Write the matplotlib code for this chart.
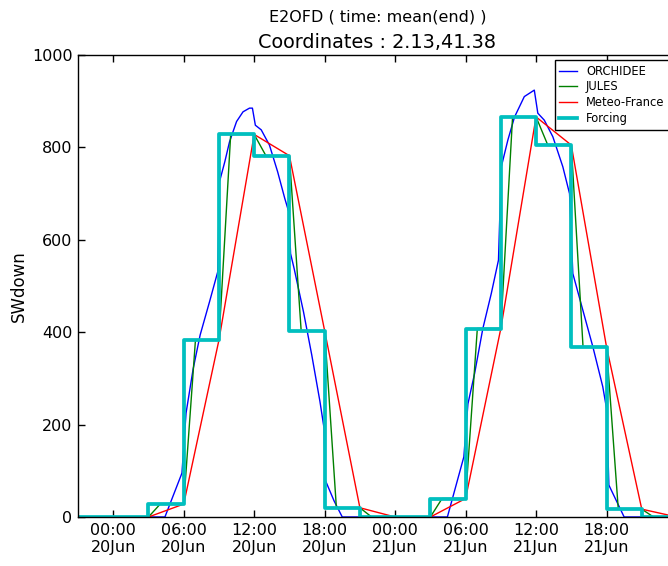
import matplotlib
matplotlib.use('Agg')
import matplotlib.pyplot as plt
import matplotlib.dates as mdates
import numpy as np
import pandas as pd

# 3-hourly forcing and Meteo-France (value valid over the 3h ending at the stamp)
forcing_times = pd.date_range('2013-06-19 21:00', '2013-06-22 00:00', freq='3h')
forcing = [0, 0, 0, 28, 383, 828, 782, 403, 20,
           0, 0, 40, 408, 866, 805, 368, 17, 0]
meteo_france = [0, 0, 0, 28, 383, 828, 782, 403, 20,
                0, 0, 40, 408, 866, 805, 368, 17, 0]

# hourly JULES
jules_times = pd.date_range('2013-06-19 21:00', '2013-06-22 00:00', freq='h')
jules = [0, 0, 0,
         0, 0, 0, 0, 28, 28, 28, 383, 383, 383, 828, 828,
         828, 782, 782, 782, 403, 403, 403, 20, 20, 20, 0, 0,
         0, 0, 0, 0, 40, 40, 40, 408, 408, 408, 866, 866,
         866, 805, 805, 805, 368, 368, 368, 17, 17, 17, 0, 0,
         0]

# ORCHIDEE, hours after 20Jun 00:00
orchidee_hours = [-3, 4.4, 5.85, 6.2, 6.8, 7.4, 8.2, 8.9, 9.05, 9.5, 9.9, 10.5,
                  11.05, 11.6, 11.85, 12.1, 12.6, 13.3, 14.0, 14.6, 14.95, 15.1,
                  15.4, 16.2, 16.9, 17.6, 17.95, 18.05, 18.8, 19.5,
                  28.45, 29.85, 30.2, 30.77, 31.47, 32.19, 32.8, 33.04, 33.6,
                  34.17, 35.0, 35.85, 36.15, 36.7, 37.43, 38.28, 38.85, 39.13,
                  39.98, 40.83, 41.68, 42.0, 42.2, 43.5, 48]
orchidee = [0, 0, 95, 225, 320, 394, 466, 531, 726, 769, 812, 856,
            877, 885, 885, 848, 838, 805, 747, 690, 660, 570,
            538, 444, 351, 250, 192, 80, 35, 0,
            0, 130, 245, 311, 408, 484, 556, 758, 816,
            866, 910, 924, 874, 859, 823, 758, 700, 527,
            448, 369, 282, 235, 69, 0, 0]

t0 = pd.Timestamp('2013-06-20 00:00')
orchidee_times = [t0 + pd.Timedelta(hours=h) for h in orchidee_hours]
tick_times = pd.date_range('2013-06-20 00:00', '2013-06-21 18:00', freq='6h')

fig = plt.figure(figsize=(6.68, 5.66), dpi=100)
ax = fig.add_axes([78 / 668, 49 / 566, 599 / 668, 462 / 566])

ax.plot(orchidee_times, orchidee, color='b', lw=1.0, label='ORCHIDEE')
ax.plot(jules_times, jules, color='g', lw=1.0, label='JULES')
ax.plot(forcing_times, meteo_france, color='r', lw=1.0, label='Meteo-France')
ax.plot(forcing_times, forcing, color='c', lw=2.7, drawstyle='steps-pre', label='Forcing')

ax.set_xlim(forcing_times[0], forcing_times[-1])
ax.set_ylim(0, 1000)
ax.set_yticks(np.arange(0, 1001, 200))
ax.set_xticks(tick_times)
ax.xaxis.set_major_formatter(mdates.DateFormatter('%H:%M\n%d%b'))
ax.tick_params(direction='in', top=True, right=True, length=5, width=1,
               labelsize=11.5, pad=4, colors='black')
for s in ax.spines.values():
    s.set_color('black')
    s.set_linewidth(1.0)

ax.set_ylabel('SWdown', fontsize=12)
ax.yaxis.set_label_coords(-0.084, 0.5)
ax.set_title('Coordinates : 2.13,41.38', fontsize=13.9, pad=5)
fig.text(ax.get_position().x0 + ax.get_position().width / 2, 1 - 17 / 566,
         'E2OFD ( time: mean(end) )', ha='center', va='center', fontsize=11.5)

leg = ax.legend(loc='upper right', bbox_to_anchor=(669 / 668, 1 - 60 / 566),
                bbox_transform=fig.transFigure, borderaxespad=0,
                fontsize=8.3, fancybox=False, framealpha=1, edgecolor='black',
                handlelength=1.5, labelspacing=0.25)
leg.get_frame().set_linewidth(1.0)

fig.savefig('out.png', dpi=100)
